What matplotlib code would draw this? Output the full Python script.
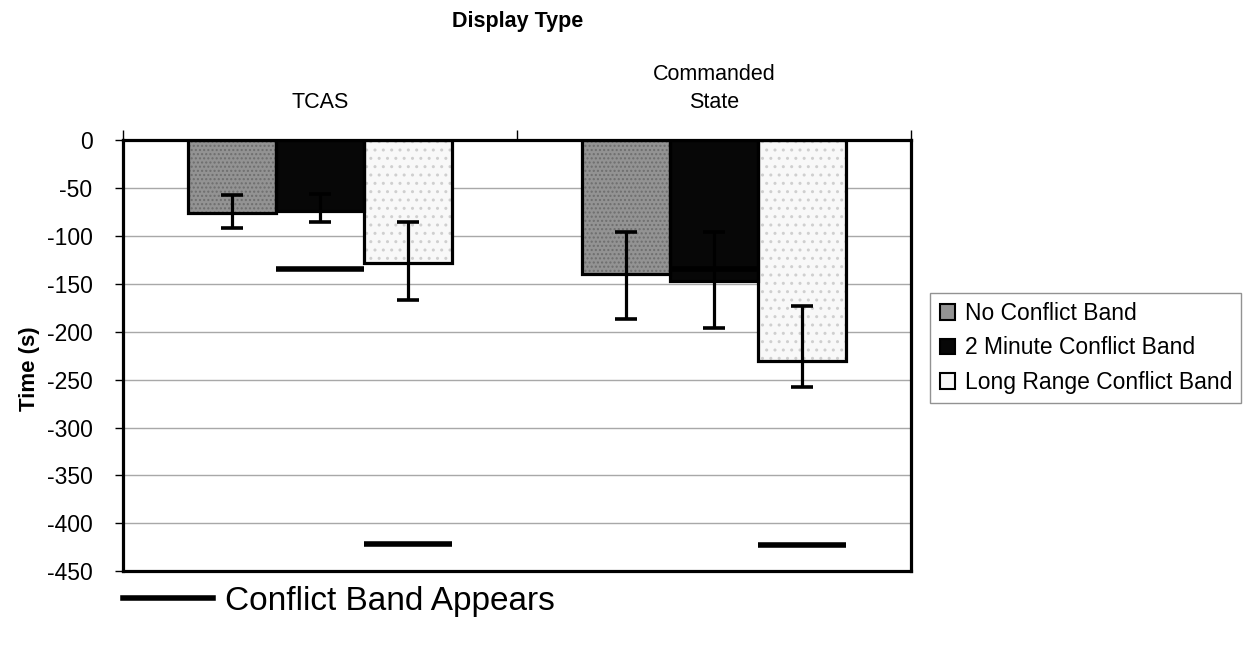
import matplotlib.pyplot as plt
from matplotlib.patches import Patch
from matplotlib.lines import Line2D
import numpy as np

plt.rcParams.update({
    'font.family': ['Liberation Sans', 'DejaVu Sans'],
    'font.size': 15,
    'axes.unicode_minus': False,
})

# data
displays = ['TCAS', 'Commanded\nState']
conditions = ['No Conflict Band', '2 Minute Conflict Band', 'Long Range Conflict Band']
no_band = [-75.5, -139.6]
two_min = [-73.4, -147.0]
long_range = [-128.5, -230.3]
# error bar ends (top, bottom)
no_band_err_top = [-57, -96]
no_band_err_bot = [-91, -187]
two_min_err_top = [-56, -96]
two_min_err_bot = [-85, -196]
long_range_err_top = [-85, -173]
long_range_err_bot = [-167, -258]
# time at which the conflict band appears
band_appears_2min = [-134.4, -134.7]
band_appears_long = [-422, -423]

fig = plt.figure(figsize=(12.54, 6.45), dpi=100)
ax = fig.add_axes([0.0981, 0.1147, 0.6284, 0.6675])

x = np.arange(len(displays))
w = 0.2234
series = [
    (no_band, no_band_err_top, no_band_err_bot, '#939393', '....', '#6e6e6e'),
    (two_min, two_min_err_top, two_min_err_bot, '#070707', None, '#070707'),
    (long_range, long_range_err_top, long_range_err_bot, '#f8f8f8', '..', '#cfcfcf'),
]
offsets = [-w, 0, w]

ax.set_axisbelow(True)
ax.yaxis.grid(True, color='#a8a8a8', linewidth=1.0)

for (vals, top, bot, fc, hatch, hc), off in zip(series, offsets):
    xs = x + off
    # texture layer then outline layer
    ax.bar(xs, vals, w, color=fc, hatch=hatch, edgecolor=hc, linewidth=0, zorder=2)
    ax.bar(xs, vals, w, facecolor='none', edgecolor='black', linewidth=2.3, zorder=3)
    vals = np.array(vals)
    lower = vals - np.array(bot)
    upper = np.array(top) - vals
    ax.errorbar(xs, vals, yerr=[lower, upper], fmt='none', ecolor='black',
                elinewidth=2.3, capsize=8, capthick=2.6, zorder=4)

# conflict band markers
ax.hlines(band_appears_2min, x + offsets[1] - w / 2, x + offsets[1] + w / 2,
          colors='black', linewidth=4, zorder=5)
ax.hlines(band_appears_long, x + offsets[2] - w / 2, x + offsets[2] + w / 2,
          colors='black', linewidth=4, zorder=5)

ax.set_xlim(-0.5, 1.5)
ax.set_ylim(-450, 0)
ax.set_yticks(np.arange(-450, 1, 50))
ax.tick_params(axis='y', direction='out', length=6, width=1, pad=16, labelsize=16.5)

# category labels on top, boundaries ticked
ax.xaxis.tick_top()
ax.set_xticks([-0.5, 0.5, 1.5])
ax.set_xticklabels([])
ax.set_xticks(x, minor=True)
ax.set_xticklabels(displays, minor=True, fontsize=15.5, linespacing=1.45)
ax.tick_params(axis='x', which='major', direction='out', length=7, width=1)
ax.tick_params(axis='x', which='minor', length=0, pad=20)

for s in ax.spines.values():
    s.set_linewidth(2.3)

ax.set_ylabel('Time (s)', fontweight='bold', fontsize=16)
ax.yaxis.set_label_coords(-0.105, 0.47)

fig.text(0.413, 0.966, 'Display Type', fontweight='bold', fontsize=15.5,
         ha='center', va='center')

handles = [Patch(facecolor=s[3], edgecolor='black', linewidth=1.5) for s in series]
leg = fig.legend(handles, conditions, loc='upper left', bbox_to_anchor=(0.742, 0.546),
                 fontsize=16.5, frameon=True, fancybox=False, edgecolor='#777777',
                 handlelength=0.65, handleheight=0.65, handletextpad=0.45,
                 labelspacing=0.5, borderpad=0.4, borderaxespad=0)
leg.get_frame().set_linewidth(1.0)

band_handle = Line2D([], [], color='black', linewidth=4)
fig.legend([band_handle], ['Conflict Band Appears'], loc='center left',
           bbox_to_anchor=(0.0981, 0.068), fontsize=24, frameon=False,
           handlelength=2.7, handletextpad=0.35, borderpad=0, borderaxespad=0)

fig.savefig('out.png', dpi=100)
